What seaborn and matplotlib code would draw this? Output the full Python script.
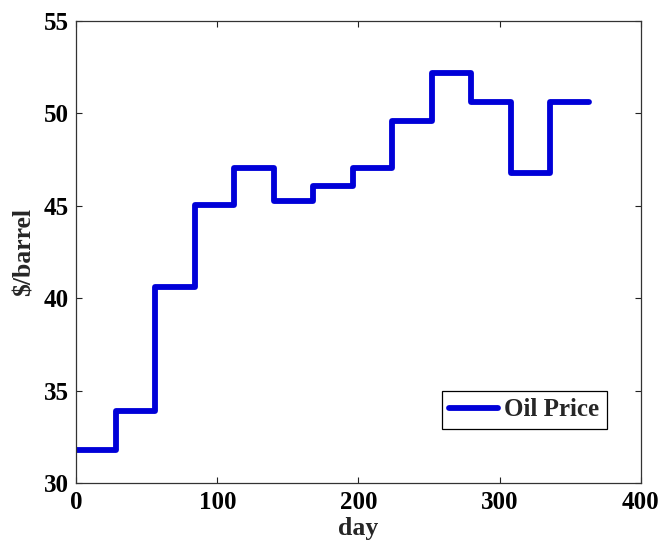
import matplotlib
matplotlib.use("Agg")
import matplotlib.pyplot as plt
import seaborn as sns
import pandas as pd

# Monthly (28-day) oil price levels over one year
step_days = [0, 28, 56, 84, 112, 140, 168, 196, 224, 252, 280, 308, 336]
prices = [31.8, 33.9, 40.6, 45.05, 47.05, 45.25, 46.05, 47.05, 49.6, 52.2, 50.6, 46.8, 50.6]
end_day = 363
x_ticks = [0, 100, 200, 300, 400]
y_ticks = [30, 35, 40, 45, 50, 55]

df = pd.DataFrame({"day": step_days + [end_day], "price": prices + [prices[-1]]})

sns.set_style("ticks")
plt.rcParams["font.family"] = ["Liberation Serif", "DejaVu Serif"]
plt.rcParams["font.weight"] = "bold"
plt.rcParams["xtick.direction"] = "in"
plt.rcParams["ytick.direction"] = "in"

fig = plt.figure(figsize=(6.62, 5.52), dpi=100)
ax = fig.add_axes([0.115, 0.125, 0.853, 0.837])

sns.lineplot(data=df, x="day", y="price", ax=ax, color="#0000D8", linewidth=4.2,
             drawstyle="steps-post", label="Oil Price")

ax.set_xlim(0, 400)
ax.set_ylim(30, 55)
ax.set_xticks(x_ticks)
ax.set_yticks(y_ticks)
ax.tick_params(axis="both", which="both", direction="in", length=4, width=0.8,
               top=True, right=True, labelsize=18, colors="#222222",
               labelcolor="black")
ax.tick_params(axis="x", pad=6)
ax.tick_params(axis="y", pad=5)
for lbl in ax.get_xticklabels() + ax.get_yticklabels():
    lbl.set_fontweight("bold")
for s in ax.spines.values():
    s.set_linewidth(0.9)
    s.set_color("#333333")

ax.set_xlabel("day", fontsize=18.5, fontweight="bold", labelpad=2)
ax.set_ylabel(r"\$/barrel", fontsize=18.5, fontweight="bold", labelpad=6)

leg = ax.legend(loc="lower right", bbox_to_anchor=(0.94, 0.117),
                frameon=True, fancybox=False, edgecolor="black", framealpha=1,
                handlelength=1.95, handletextpad=0.25, borderpad=0.3,
                borderaxespad=0, prop={"weight": "bold", "size": 18})
leg.get_frame().set_linewidth(0.9)

fig.savefig("out.png", dpi=100)
